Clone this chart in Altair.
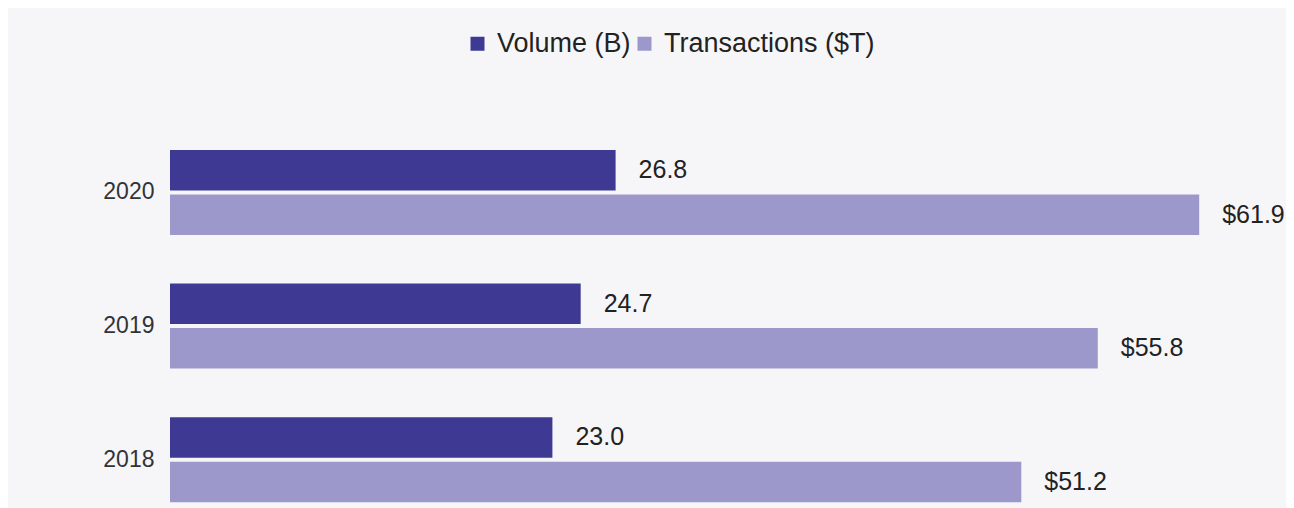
import altair as alt
import pandas as pd

years = ["2020", "2019", "2018"]
volume = [26.8, 24.7, 23.0]
transactions = [61.9, 55.8, 51.2]
series_names = ["Volume (B)", "Transactions ($T)"]
colors = ["#3e3a94", "#9c98cc"]

rows = []
for y, v, t in zip(years, volume, transactions):
    rows.append({"year": y, "series": series_names[0], "value": v, "label": f"{v:.1f}"})
    rows.append({"year": y, "series": series_names[1], "value": t, "label": f"${t:.1f}"})
df = pd.DataFrame(rows)

FONT = "Liberation Sans"

y_enc = alt.Y(
    "year:N",
    sort=years,
    scale=alt.Scale(paddingInner=0.364, paddingOuter=0.1, align=0.97),
    axis=alt.Axis(title=None, domain=False, ticks=False, labelFontSize=23,
                  labelColor="#333333", labelPadding=16, labelFont=FONT),
)
yoff = alt.YOffset("series:N", sort=series_names,
                   scale=alt.Scale(paddingInner=0.09, paddingOuter=0))
x_enc = alt.X("value:Q", scale=alt.Scale(domain=[0, 67]), axis=None)

base = alt.Chart(df).encode(y=y_enc, yOffset=yoff, x=x_enc)

bars = base.mark_bar().encode(
    color=alt.Color(
        "series:N",
        sort=series_names,
        scale=alt.Scale(domain=series_names, range=colors),
        legend=alt.Legend(
            orient="none", legendX=294, legendY=-94, direction="horizontal",
            title=None, symbolType="square", symbolSize=196, symbolStrokeWidth=0,
            labelFontSize=27, labelFont=FONT, labelColor="#222222",
            labelOffset=6, columnPadding=0, labelLimit=0,
        ),
    )
)
text = base.mark_text(align="left", baseline="middle", dx=23, fontSize=25,
                      font=FONT, color="#222222").encode(text="label:N")

chart = (bars + text).properties(
    width=1114,
    height=379,
    autosize=alt.AutoSizeParams(type="none"),
    padding={"left": 162, "top": 116, "right": 2, "bottom": 5},
    background="#f6f6f9",
).configure_view(stroke=None)

chart.save("out.html", embed_options={"renderer": "svg", "actions": False})
